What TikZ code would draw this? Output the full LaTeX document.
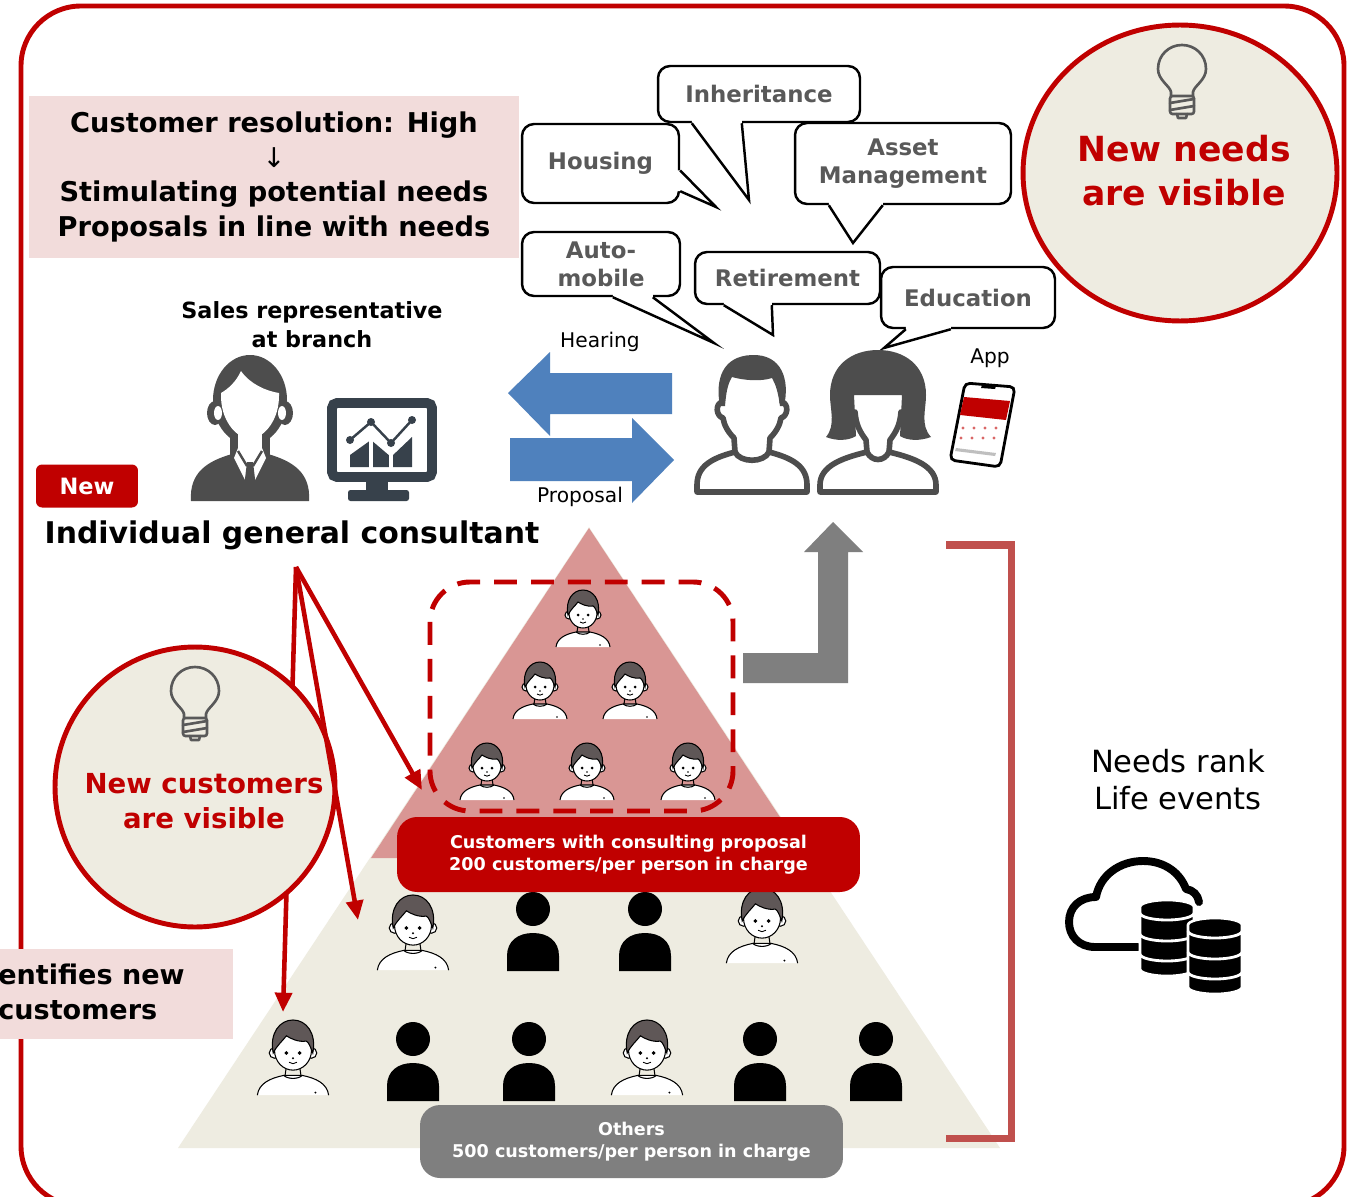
\documentclass[tikz,border=0pt]{standalone}
\usepackage{fontspec}
\setmainfont{DejaVu Sans}
\usetikzlibrary{arrows.meta,calc,shapes.geometric}

\definecolor{deepred}{HTML}{C00000}
\definecolor{blush}{HTML}{F2DCDB}
\definecolor{beige}{HTML}{EEECE1}
\definecolor{rose}{HTML}{D99694}
\definecolor{arrowblue}{HTML}{4F81BD}
\definecolor{icongray}{HTML}{4D4D4D}
\definecolor{slate}{HTML}{37414B}
\definecolor{bubtext}{HTML}{595959}
\definecolor{hair}{HTML}{5F5757}
\definecolor{bracketred}{HTML}{C0504D}
\definecolor{arrowgray}{HTML}{7F7F7F}

\tikzset{
  bubble/.style={draw=black, fill=white, line width=1.4pt, rounded corners=0.24cm, inner sep=0pt,
    align=center, text=bubtext, font=\bfseries\fontsize{13}{16}\selectfont},
  tail/.style={draw=black, line width=1.4pt, line join=miter},
  ring/.style={draw=deepred, fill=beige, line width=2.8pt, inner sep=0pt},
  pointer/.style={draw=deepred, line width=2.6pt, -{Triangle[length=11pt,width=9.5pt]}},
  tag/.style={rounded corners=0.4cm, text=white, align=center, inner sep=0pt,
    font=\bfseries\fontsize{10}{12.8}\selectfont},
  outline/.style={draw=icongray, line width=3.2pt, line join=round, line cap=round},
  bulbline/.style={draw=bubtext, line width=1.5pt, line cap=round, line join=round},
  bulb/.pic={
    \draw[bulbline] (-11,26) -- (-11,22) .. controls (-12,16) and (-24,10) .. (-24,-1)
      .. controls (-24,-15) and (-13,-25) .. (0,-25) .. controls (13,-25) and (24,-15) .. (24,-1)
      .. controls (24,10) and (12,16) .. (11,22) -- (11,26);
    \draw[bulbline, rounded corners=0.05cm] (-12,26) rectangle (12,44);
    \draw[bulbline] (-12,33) -- (12,29) (-12,40) -- (12,36);
    \draw[bulbline] (-5,44) -- (-4,48) -- (4,48) -- (5,44);
  },
  boy/.pic={
    \filldraw[fill=white, draw=black, line width=0.6pt] (-27,35) .. controls (-26,26) and (-17,22) .. (-7,20)
      -- (7,20) .. controls (17,22) and (26,26) .. (27,35);
    \draw[line width=0.6pt] (-7,20) .. controls (-4,23) and (4,23) .. (7,20);
    \draw[line width=0.6pt] (-5,13) -- (-6,20) (5,13) -- (6,20);
    \filldraw[fill=white, draw=black, line width=0.6pt] (-14,3) circle[radius=4] (14,3) circle[radius=4];
    \filldraw[fill=white, draw=black, line width=0.6pt] (0,1) ellipse[x radius=14, y radius=15];
    \filldraw[fill=hair, draw=black, line width=0.6pt] (-15,3) .. controls (-18,-12) and (-10,-22) .. (0,-22)
      .. controls (10,-22) and (18,-12) .. (15,3) .. controls (13,-2) and (12,-5) .. (10,-6)
      .. controls (4,-5) and (-2,-8) .. (-5,-10) .. controls (-8,-6) and (-12,-3) .. (-15,3) -- cycle;
    \fill (-5,3) circle[radius=1.5] (5,3) circle[radius=1.5] (0,7) circle[radius=0.8] (17,33) circle[radius=0.8];
    \draw[line width=0.5pt] (-3,10) .. controls (-1,11.5) and (1,11.5) .. (3,10);
  },
  silhouette/.pic={
    \fill[black] (0,0) circle[radius=17];
    \fill[black] (-26,62) -- (-26,47) .. controls (-26,32) and (-15,24) .. (0,24)
      .. controls (15,24) and (26,32) .. (26,47) -- (26,62) -- cycle;
  },
  drum/.pic={
    \filldraw[fill=black, draw=white, line width=1.5pt] (-27,0) -- (-27,62) arc[start angle=180, end angle=0, x radius=27, y radius=7]
      -- (27,0) arc[start angle=0, end angle=-180, x radius=27, y radius=7] -- cycle;
    \foreach \h in {6,27,47}
      \draw[white, line width=1.6pt] (-27,\h) arc[start angle=180, end angle=0, x radius=27, y radius=7];
  }
}

\begin{document}
\begin{tikzpicture}[x=0.02cm, y=-0.02cm]
\useasboundingbox (0,0) rectangle (1348,1196);
\fill[white] (0,0) rectangle (1348,1196);
\draw[deepred, line width=2.8pt, rounded corners=1.2cm] (21,6) rectangle (1344,1206);

% headline
\fill[blush] (29,96) rectangle (519,258);
\node[align=center, inner sep=0pt, font=\bfseries\fontsize{15.5}{19.8}\selectfont] (resolve) at (274,177)
  {Customer resolution: High\\{\mdseries ↓}\\Stimulating potential needs\\Proposals in line with needs};

% needs bubbles
\node[bubble, minimum width=4.04cm, minimum height=1.12cm] (inh) at (759,94) {Inheritance};
\fill[white] ($(inh.south west)+(35,-4)$) -- ($(inh.south west)+(35,0)$) -- (749,200) -- ($(inh.south west)+(85,0)$) -- ($(inh.south west)+(85,-4)$) -- cycle;
\draw[tail] ($(inh.south west)+(35,0)$) -- (749,200) -- ($(inh.south west)+(85,0)$);

\node[bubble, minimum width=3.14cm, minimum height=1.58cm] (hou) at (600.5,163.5) {Housing};
\fill[white] ($(hou.east)+(-4,7)$) -- ($(hou.east)+(0,7)$) -- (716,207) -- ($(hou.south east)+(0,-13)$) -- ($(hou.south east)+(-4,-13)$) -- cycle;
\draw[tail] ($(hou.east)+(0,7)$) -- (716,207) -- ($(hou.south east)+(0,-13)$);

\node[bubble, minimum width=4.32cm, minimum height=1.62cm] (ast) at (903,163.5) {Asset\\Management};
\fill[white] ($(ast.south west)+(35,-4)$) -- ($(ast.south west)+(35,0)$) -- (853,243) -- ($(ast.south west)+(89,0)$) -- ($(ast.south west)+(89,-4)$) -- cycle;
\draw[tail] ($(ast.south west)+(35,0)$) -- (853,243) -- ($(ast.south west)+(89,0)$);

\node[bubble, minimum width=3.16cm, minimum height=1.28cm] (aut) at (601,264) {Auto-\\mobile};
\fill[white] ($(aut.south west)+(92,-4)$) -- ($(aut.south west)+(92,0)$) -- (714,343) -- ($(aut.south west)+(132,0)$) -- ($(aut.south west)+(132,-4)$) -- cycle;
\draw[tail] ($(aut.south west)+(92,0)$) -- (714,343) -- ($(aut.south west)+(132,0)$);

\node[bubble, minimum width=3.7cm, minimum height=1.04cm] (ret) at (787.5,278) {Retirement};
\fill[white] ($(ret.south west)+(30,-4)$) -- ($(ret.south west)+(30,0)$) -- (773,335) -- ($(ret.south west)+(78,0)$) -- ($(ret.south west)+(78,-4)$) -- cycle;
\draw[tail] ($(ret.south west)+(30,0)$) -- (773,335) -- ($(ret.south west)+(78,0)$);

\node[bubble, minimum width=3.48cm, minimum height=1.22cm] (edu) at (968,297.5) {Education};
\fill[white] ($(edu.south west)+(26,-4)$) -- ($(edu.south west)+(26,0)$) -- (884,348) -- ($(edu.south west)+(71,0)$) -- ($(edu.south west)+(71,-4)$) -- cycle;
\draw[tail] ($(edu.south west)+(26,0)$) -- (884,348) -- ($(edu.south west)+(71,0)$);

% new needs
\node[ring, ellipse, minimum width=6.28cm, minimum height=5.92cm] (needs) at (1180,173) {};
\pic at (1182,70) {bulb};
\node[align=center, inner sep=0pt, text=deepred, font=\bfseries\fontsize{19.7}{25}\selectfont] (needstext) at (1184,171) {New needs\\are visible};

% sales representative
\node[align=center, inner sep=0pt, font=\bfseries\fontsize{12.7}{16.4}\selectfont] (rep) at (312,325) {Sales representative\\at branch};
\fill[icongray] (250,400) ellipse[x radius=37, y radius=45];
\fill[icongray] (215,413) ellipse[x radius=8, y radius=12] (285,413) ellipse[x radius=8, y radius=12];
\fill[icongray] (230,420) rectangle (270,460);
\fill[icongray] (191,501) .. controls (189,472) and (208,461) .. (232,454) -- (268,454) .. controls (292,461) and (311,472) .. (309,501) -- cycle;
\fill[white] (221,393) .. controls (220,420) and (236,438) .. (250,439) .. controls (264,438) and (280,420) .. (279,393)
  .. controls (266,391) and (250,384) .. (241,371) .. controls (236,382) and (228,389) .. (221,393) -- cycle;
\fill[white] (218,413) ellipse[x radius=4, y radius=7] (282,413) ellipse[x radius=4, y radius=7];
\fill[white] (238,430) rectangle (262,452);
\fill[white] (238,448) -- (262,448) -- (266,458) -- (250,490) -- (234,458) -- cycle;
\draw[icongray, line width=1.4pt] (238,451) -- (247,466) (262,451) -- (253,466);
\fill[icongray] (247,462) -- (253,462) -- (256,487) -- (250,494) -- (244,487) -- cycle;

% monitor
\draw[slate, line width=5.6pt, rounded corners=0.1cm] (332,403) rectangle (432,477);
\fill[slate] (366,480) rectangle (388,492);
\fill[slate, rounded corners=0.05cm] (348,490) rectangle (409,501);
\fill[slate] (350,467) -- (350,455) -- (371,440) -- (391,457) -- (412,437) -- (412,467) -- cycle;
\draw[white, line width=2pt] (371,436) -- (371,468) (391,436) -- (391,468);
\draw[slate, line width=1.4pt] (350,440) -- (371,422) -- (391,443) -- (412,420);
\foreach \p in {(350,440),(371,422),(391,443),(412,420)} \fill[slate] \p circle[radius=4];

% hearing and proposal
\fill[arrowblue] (508,393) -- (550,352) -- (550,373) -- (672,373) -- (672,414) -- (550,414) -- (550,436) -- cycle;
\fill[arrowblue] (674,460) -- (632,418) -- (632,438) -- (510,438) -- (510,481) -- (632,481) -- (632,503) -- cycle;
\node[font=\fontsize{11.5}{13}\selectfont, inner sep=0pt] (hear) at (600,342) {Hearing};
\node[font=\fontsize{11.5}{13}\selectfont, inner sep=0pt] (prop) at (580,497) {Proposal};

% customers
\draw[outline] (735,452) .. controls (712,458) and (697,466) .. (697,485) -- (697,492) -- (807,492) -- (807,485) .. controls (807,466) and (792,458) .. (769,452);
\draw[outline] (735,452) .. controls (740,463) and (764,463) .. (769,452);
\draw[outline] (735,452) -- (734,438) .. controls (728,432) and (724,425) .. (723,418) .. controls (716,416) and (715,404) .. (722,402);
\draw[outline] (769,452) -- (770,438) .. controls (776,432) and (780,425) .. (781,418) .. controls (788,416) and (789,404) .. (782,402);
\fill[icongray] (720,406) .. controls (715,380) and (722,356) .. (752,355) .. controls (782,354) and (790,380) .. (784,406)
  -- (780,406) .. controls (778,392) and (776,385) .. (772,378) .. controls (760,382) and (742,380) .. (732,377)
  .. controls (727,385) and (726,395) .. (725,406) -- cycle;

\draw[outline] (867,452) .. controls (842,458) and (820,466) .. (820,485) -- (820,492) -- (936,492) -- (936,485) .. controls (936,466) and (914,458) .. (889,452);
\draw[outline] (867,452) .. controls (872,462) and (884,462) .. (889,452);
\draw[outline] (867,452) -- (866,440) .. controls (860,432) and (856,425) .. (855,412);
\draw[outline] (889,452) -- (890,440) .. controls (896,432) and (900,425) .. (901,412);
\fill[icongray] (826,437) .. controls (836,425) and (830,410) .. (830,395) .. controls (830,365) and (852,350) .. (878,350)
  .. controls (904,350) and (926,365) .. (926,395) .. controls (926,410) and (920,425) .. (931,437)
  .. controls (920,441) and (908,441) .. (900,436) -- (902,395) -- (854,395) -- (856,436)
  .. controls (848,441) and (836,441) .. (826,437) -- cycle;

% app
\node[font=\fontsize{11.5}{13}\selectfont, inner sep=0pt] (app) at (990,358) {App};
\filldraw[fill=white, draw=black, line width=1.6pt, rounded corners=0.1cm] (965,383) -- (1015,387) -- (1000,467) -- (950,460) -- cycle;
\fill[black] (982,385) -- (996,386) -- (995,389) -- (981,388) -- cycle;
\fill[deepred] (964,397) -- (1010,401) -- (1006,420) -- (960,415) -- cycle;
\foreach \i in {0,1,2,3} \foreach \j in {0,1} \fill[deepred!60] ({963+\i*11-\j*2},{428+\j*10}) circle[radius=1.6];
\fill[black!25] (956,448) -- (996,453) -- (995,456) -- (955,451) -- cycle;

% consultant
\node[fill=deepred, rounded corners=0.12cm, minimum width=2.04cm, minimum height=0.86cm, inner sep=0pt,
  text=white, font=\bfseries\fontsize{12.8}{14}\selectfont] (newtag) at (87,486) {New};
\node[inner sep=0pt, font=\bfseries\fontsize{17}{20}\selectfont] (consultant) at (292,535) {Individual general consultant};

% pyramid
\fill[beige] (589,527) -- (1000,1148) -- (178,1148) -- cycle;
\fill[rose] (589,528) -- (807,858) -- (371,858) -- cycle;
\draw[bracketred, line width=4pt, line join=miter] (946,545) -- (1011,545) -- (1011,1138) -- (946,1138);
\fill[arrowgray] (833,522) -- (863,552) -- (848,552) -- (848,683) -- (743,683) -- (743,653) -- (818,653) -- (818,552) -- (804,552) -- cycle;
\draw[deepred, line width=2.8pt, dash pattern=on 13pt off 8pt, rounded corners=0.8cm] (430,582) rectangle (733,811);

\foreach \x/\y in {583/612, 540/684, 630/684, 487/765, 587/765, 688/765} \pic at (\x,\y) {boy};
\foreach \x/\y in {413/924, 762/917, 293/1049, 647/1049} \pic[scale=1.32] at (\x,\y) {boy};
\foreach \x/\y in {533/909, 645/909, 413/1039, 529/1039, 760/1039, 876/1039} \pic at (\x,\y) {silhouette};

\node[tag, fill=deepred, minimum width=9.26cm, minimum height=1.5cm] (consulted) at (628.5,854.5)
  {Customers with consulting proposal\\200 customers/per person in charge};
\node[tag, fill=arrowgray, minimum width=8.46cm, minimum height=1.46cm] (others) at (631.5,1141.5)
  {Others\\500 customers/per person in charge};

% new customers
\coordinate (fan) at (296,567);
\coordinate (hittop) at (422,790);
\coordinate (hitmid) at (358,920);
\coordinate (hitlow) at (283,1012);
\draw[pointer] (fan) -- (hitlow);
\node[ring, circle, minimum size=5.6cm] (custring) at (195,787) {};
\pic at (195,692) {bulb};
\node[align=center, inner sep=0pt, text=deepred, font=\bfseries\fontsize{15.7}{19.8}\selectfont] (custtext) at (204,801) {New customers\\are visible};
\draw[pointer] (fan) -- (hittop);
\draw[pointer] (fan) -- (hitmid);

\fill[blush] (0,949) rectangle (233,1039);
\node[anchor=west, align=left, inner sep=0pt, font=\bfseries\fontsize{15.4}{19.8}\selectfont] (finds) at (-2,992) {entifies new\\customers};

% needs rank
\node[align=center, inner sep=0pt, font=\fontsize{17.4}{21}\selectfont] (rank) at (1178,780) {Needs rank\\Life events};
\draw[black, line width=4.5pt, line cap=round, line join=round] (1138,947) -- (1095,947)
  .. controls (1079,947) and (1069,936) .. (1069,922) .. controls (1069,907) and (1080,897) .. (1096,897)
  .. controls (1100,875) and (1120,861) .. (1143,861) .. controls (1165,861) and (1180,873) .. (1186,889)
  .. controls (1193,890) and (1198,895) .. (1199,902);
\pic at (1167,907) {drum};
\pic at (1215,925) {drum};
\end{tikzpicture}
\end{document}
